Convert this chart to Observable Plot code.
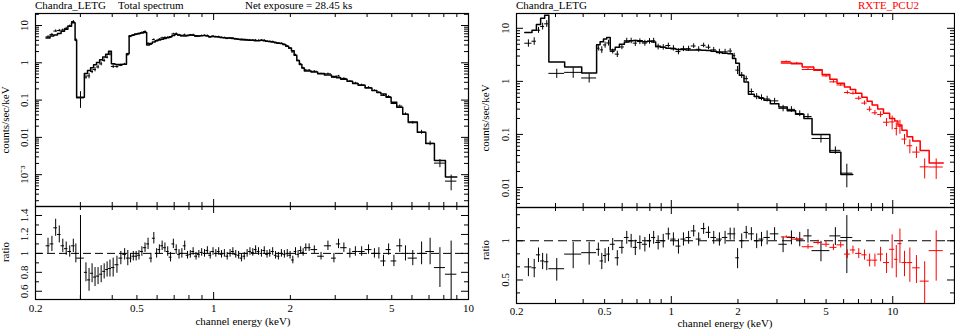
<!DOCTYPE html>
<html>
<head>
<meta charset="utf-8">
<script src="https://cdn.jsdelivr.net/npm/d3@7"></script>
<script src="https://cdn.jsdelivr.net/npm/@observablehq/plot@0.6"></script>
<style>
  body { margin: 0; background: #fff; }
  #wrap { position: relative; width: 955px; height: 331px; overflow: hidden; background: #fff; }
</style>
</head>
<body>
<div id="wrap"></div>
<script>
// ================= DATA =================
// Left panel: Chandra_LETG total spectrum (bin edges in keV, model counts/sec/keV, data/model ratio, ratio error)
const leftEdges = [0.220,0.228,0.236,0.244,0.252,0.26,0.268,0.277,0.286,0.29,0.311,
  0.32,0.329,0.338,0.347,0.357,0.367,0.377,0.387,0.397,
  0.41,0.425,0.44,0.455,0.466,
  0.478,0.49,0.503,0.516,0.53,0.546,
  0.56,0.575,0.59,0.605,0.62,0.636,0.652,0.669,0.686,0.704,
  0.722,0.741,0.76,0.78,0.8,0.82,0.842,0.864,0.886,0.909,
  0.933,0.957,0.982,1.007,1.033,1.06,1.088,1.116,1.145,1.175,
  1.205,1.237,1.269,1.302,1.336,1.371,1.406,1.443,1.48,1.52,
  1.56,1.6,1.64,1.68,1.73,1.77,1.82,1.87,1.92,1.97,
  2.02,2.07,2.12,2.17,2.22,2.27,2.33,
  2.41,2.56,2.72,2.9,3.03,3.15,3.34,3.51,3.69,3.93,
  4.18,4.37,4.53,4.75,4.97,5.23,5.52,5.8,6.3,6.8,
  7.35,8.12,9.0];
const leftModel = [4.6,5.2,5.6,6.1,7.0,8.0,9.5,11.8,
  4.1,0.12,
  0.52,0.62,0.74,0.88,1.02,1.2,1.42,1.7,2.05,
  0.94,0.9,0.9,0.92,
  1.74,
  5.3,5.6,5.9,6.1,6.3,6.5,
  3.0,3.3,3.6,3.9,4.1,4.3,4.5,4.7,5.0,5.4,
  5.8,5.6,5.3,5.2,5.4,5.6,5.5,5.3,5.2,5.3,
  5.4,5.2,5.0,5.1,5.0,4.9,4.8,4.7,4.6,4.6,
  4.5,4.4,4.3,4.3,4.2,4.1,4.0,4.0,3.9,3.9,
  4.0,3.9,3.8,3.7,3.6,3.5,3.4,3.3,3.1,2.8,
  2.5,2.1,1.6,1.15,0.9,0.72,0.6,
  0.6,0.57,0.52,0.47,0.43,0.40,0.36,0.32,0.28,0.25,
  0.21,0.18,0.16,0.145,0.12,0.088,0.064,0.042,0.026,0.0138,
  0.0068,0.0024,0.00086];
const leftRatio = [1.08,1.1,1.27,1.2,1.08,1.05,1.02,1.08,
  1.0,0.95,
  0.8,0.72,0.79,0.75,0.76,0.78,0.81,0.83,0.84,
  0.85,0.88,0.95,0.99,
  0.95,
  0.95,0.97,0.97,0.98,1.02,1.06,
  1.1,0.95,1.16,1.0,1.04,1.08,1.06,1.02,0.96,1.1,
  1.04,0.99,1.0,1.08,0.98,0.99,1.02,0.97,0.99,1.01,
  1.0,1.03,0.98,1.02,1.0,1.02,0.99,1.0,0.97,1.0,
  1.02,0.99,0.98,0.95,0.97,1.0,1.02,1.01,1.04,1.02,
  1.0,1.03,0.99,1.0,1.02,0.98,0.97,1.0,0.99,1.0,
  0.98,0.93,1.02,0.99,1.03,1.01,1.06,
  1.06,1.04,0.97,1.08,0.95,1.1,1.06,1.0,1.02,1.02,
  1.04,1.0,1.0,0.92,1.04,0.92,1.08,1.0,0.95,1.0,
  1.02,0.85,0.78];
const leftErr = [0.08,0.08,0.09,0.09,0.07,0.07,0.06,0.07,
  0.1,0.45,
  0.1,0.12,0.1,0.1,0.09,0.09,0.08,0.08,0.09,
  0.1,0.09,0.07,0.06,
  0.08,
  0.05,0.05,0.05,0.05,0.05,0.05,
  0.06,0.05,0.06,0.05,0.05,0.05,0.05,0.05,0.05,0.05,
  0.05,0.05,0.05,0.05,0.04,0.04,0.04,0.04,0.04,0.04,
  0.04,0.04,0.04,0.04,0.04,0.04,0.04,0.04,0.04,0.04,
  0.04,0.04,0.04,0.04,0.04,0.04,0.04,0.04,0.04,0.04,
  0.04,0.04,0.04,0.04,0.04,0.04,0.04,0.04,0.04,0.04,
  0.04,0.04,0.04,0.04,0.04,0.04,0.04,
  0.04,0.04,0.04,0.05,0.05,0.05,0.05,0.05,0.05,0.05,
  0.05,0.05,0.06,0.06,0.06,0.06,0.07,0.08,0.08,0.12,
  0.14,0.21,0.35];

// Right panel: Chandra_LETG (black)
const letgEdges = [0.218,0.235,0.246,0.257,0.268,0.28,0.33,0.394,0.46,
  0.477,0.494,0.511,0.53,0.558,0.583,0.614,0.645,0.673,0.703,
  0.74,0.78,0.815,0.85,0.895,0.945,0.995,1.05,1.105,1.165,
  1.23,1.295,1.365,1.435,1.51,1.6,1.7,1.8,1.89,1.955,
  2.03,2.13,2.23,2.37,2.49,2.62,2.8,3.06,3.34,3.64,
  3.97,4.32,5.2,5.83,6.6];
const letgModel = [8.3,9.2,11.8,15.5,17.6,2.32,1.87,1.43,
  4.9,5.6,6.3,6.7,3.9,4.4,5.0,5.5,5.8,5.9,
  5.8,5.6,5.7,5.5,4.6,4.4,4.2,4.1,4.0,4.0,
  3.9,3.9,3.9,3.85,3.8,3.7,3.5,3.4,3.3,2.7,
  2.2,1.3,0.97,0.57,0.52,0.48,0.44,0.38,0.33,0.28,
  0.24,0.2,0.1,0.046,0.0176];
const letgRatio = [0.63,0.62,0.78,0.7,0.69,0.61,0.79,0.81,
  0.86,0.70,0.77,0.79,0.94,0.74,0.89,1.06,1.0,0.89,
  0.97,0.94,1.0,1.06,0.97,1.0,1.13,1.03,0.91,1.03,
  1.06,1.19,1.03,1.24,1.16,1.06,1.03,1.06,1.13,1.13,
  0.74,1.0,1.16,1.13,1.0,1.03,1.06,1.13,0.94,1.06,
  1.03,1.09,0.84,1.09,1.06];
const letgErr = [0.1,0.1,0.1,0.1,0.1,0.12,0.18,0.16,
  0.1,0.1,0.1,0.1,0.1,0.1,0.1,0.12,0.12,0.12,
  0.12,0.12,0.12,0.12,0.12,0.12,0.12,0.12,0.12,0.12,
  0.12,0.12,0.12,0.12,0.12,0.12,0.12,0.12,0.12,0.12,
  0.13,0.13,0.13,0.13,0.13,0.13,0.13,0.13,0.13,0.13,
  0.13,0.13,0.15,0.17,0.5];

// Right panel: RXTE_PCU2 (red)
const pcuEdges = [3.14,3.48,3.9,4.4,4.8,5.2,5.6,6.05,6.43,6.8,7.25,7.66,8.07,8.55,9.08,9.68,10.2,10.55,11.0,11.6,12.3,13.3,14.6,16.9];
const pcuModel = [2.22,2.15,1.86,1.65,1.35,1.1,0.92,0.78,0.7,0.6,0.5,0.42,0.36,0.3,0.25,0.2,0.18,0.15,0.12,0.09,0.075,0.05,0.029];
const pcuRatio = [1.07,1.03,0.9,0.97,0.94,0.89,0.93,0.79,0.85,0.8,0.78,0.71,0.71,0.79,0.68,0.86,0.72,0.95,0.68,0.68,0.62,0.49,0.84];
const pcuErr = [0.02,0.03,0.04,0.04,0.05,0.05,0.05,0.06,0.06,0.07,0.07,0.08,0.08,0.1,0.12,0.25,0.2,0.28,0.15,0.2,0.15,0.2,0.35];

// Tick labels
const xTickLabels = [0.2, 0.5, 1, 2, 5, 10];
const leftCountTicks = [0.001, 0.01, 0.1, 1, 10];
const leftCountLabels = ["10\u207B\u00B3", "0.01", "0.1", "1", "10"];
const leftRatioTicks = [0.6, 0.8, 1, 1.2, 1.4];
const leftRatioLabels = ["0.6", "0.8", "1", "1.2", "1.4"];
const rightCountTicks = [0.01, 0.1, 1, 10];
const rightCountLabels = ["0.01", "0.1", "1", "10"];
const rightRatioTicks = [0.5, 1];
const rightRatioLabels = ["0.5", "1"];

// ================= HELPERS =================
const FONT = "'Liberation Serif', 'Times New Roman', serif";
const RED = "#ff0000";

function makeBins(edges, model, ratio, err) {
  const n = Math.min(edges.length - 1, model.length, ratio.length, err.length);
  const out = [];
  for (let i = 0; i < n; i++) {
    const lo = edges[i], hi = edges[i + 1];
    out.push({lo, hi, mid: Math.sqrt(lo * hi), m: model[i], r: ratio[i], e: err[i],
      c: model[i] * ratio[i], ce: model[i] * err[i]});
  }
  return out;
}
function stepPts(bins) {
  const p = bins.map(b => ({x: b.lo, y: b.m}));
  const l = bins[bins.length - 1];
  p.push({x: l.hi, y: l.m});
  return p;
}
function logMinor(lo, hi) {
  const out = [];
  for (let p = Math.floor(Math.log10(lo)) - 1; p <= Math.ceil(Math.log10(hi)); p++)
    for (let k = 2; k <= 9; k++) { const v = k * Math.pow(10, p); if (v > lo * 1.0001 && v < hi * 0.9999) out.push(v); }
  return out;
}
function logMajor(lo, hi) {
  const out = [];
  for (let p = Math.floor(Math.log10(lo)) - 1; p <= Math.ceil(Math.log10(hi)); p++) { const v = Math.pow(10, p); if (v > lo * 1.0001 && v < hi * 0.9999) out.push(v); }
  return out;
}
function frameTicks(xMaj, xMin, yMaj, yMin, iw, ih) {
  const S = {stroke: "black", strokeWidth: 1};
  const M = 7, m = 4;
  return [
    Plot.tickX(xMaj, {x: d => d, insetTop: ih - M, ...S}),
    Plot.tickX(xMaj, {x: d => d, insetBottom: ih - M, ...S}),
    Plot.tickX(xMin, {x: d => d, insetTop: ih - m, ...S}),
    Plot.tickX(xMin, {x: d => d, insetBottom: ih - m, ...S}),
    Plot.tickY(yMaj, {y: d => d, insetRight: iw - M, ...S}),
    Plot.tickY(yMaj, {y: d => d, insetLeft: iw - M, ...S}),
    Plot.tickY(yMin, {y: d => d, insetRight: iw - m, ...S}),
    Plot.tickY(yMin, {y: d => d, insetLeft: iw - m, ...S})
  ];
}
function yLabels(vals, txt, dx) {
  return Plot.text(vals.map((v, i) => ({v, t: txt[i]})), {y: "v", text: "t", frameAnchor: "left", dx,
    rotate: -90, textAnchor: "middle", lineAnchor: "bottom", fontSize: 11, fill: "black"});
}
function xLabels(dy) {
  return Plot.text(xTickLabels.map(v => ({v, t: String(v)})), {x: "v", text: "t", frameAnchor: "bottom", dy,
    lineAnchor: "top", fontSize: 11, fill: "black"});
}
function spectrumMarks(bins, color) {
  return [
    Plot.line(stepPts(bins), {x: "x", y: "y", curve: "step-after", stroke: color, strokeWidth: 1.5, clip: true}),
    Plot.ruleY(bins, {y: "c", x1: "lo", x2: "hi", stroke: color, strokeWidth: 1, clip: true}),
    Plot.ruleX(bins, {x: "mid", y1: d => Math.max(d.c - d.ce, 1e-7), y2: d => d.c + d.ce, stroke: color, strokeWidth: 1, clip: true})
  ];
}
function ratioMarks(bins, color, ymin) {
  return [
    Plot.ruleY(bins, {y: "r", x1: "lo", x2: "hi", stroke: color, strokeWidth: 1, clip: true}),
    Plot.ruleX(bins, {x: "mid", y1: d => Math.max(d.r - d.e, ymin), y2: d => d.r + d.e, stroke: color, strokeWidth: 1, clip: true})
  ];
}
function panel(o) {
  const svg = Plot.plot({
    width: o.width, height: o.height,
    marginLeft: o.mL, marginRight: o.mR, marginTop: o.mT, marginBottom: o.mB,
    x: {type: "log", domain: o.xDomain, axis: null},
    y: {type: o.yType, domain: o.yDomain, axis: null},
    style: {background: "transparent", overflow: "visible", fontFamily: FONT, fontSize: "11px", color: "black"},
    marks: o.marks
  });
  svg.style.position = "absolute";
  svg.style.left = o.left + "px";
  svg.style.top = o.top + "px";
  document.getElementById("wrap").appendChild(svg);
}

// ================= BUILD =================
const leftBins = makeBins(leftEdges, leftModel, leftRatio, leftErr);
const letgBins = makeBins(letgEdges, letgModel, letgRatio, letgErr);
const pcuBins = makeBins(pcuEdges, pcuModel, pcuRatio, pcuErr);

// Left top
{
  const xD = [0.2, 10], yD = [1.4e-4, 21];
  const W = 470, H = 207, mL = 35, mR = 2, mT = 13, mB = 1;
  panel({left: 0, top: 0, width: W, height: H, mL, mR, mT, mB, xDomain: xD, yDomain: yD, yType: "log",
    marks: [
      ...spectrumMarks(leftBins, "black"),
      ...frameTicks(logMajor(...xD), logMinor(...xD), logMajor(...yD), logMinor(...yD), W - mL - mR, H - mT - mB),
      yLabels(leftCountTicks, leftCountLabels, -8),
      Plot.frame({stroke: "black", strokeWidth: 1.2})
    ]});
}
// Left bottom (ratio)
{
  const xD = [0.2, 10], yD = [0.513, 1.495];
  const W = 470, H = 131, mL = 35, mR = 2, mT = 6, mB = 32;
  panel({left: 0, top: 200, width: W, height: H, mL, mR, mT, mB, xDomain: xD, yDomain: yD, yType: "linear",
    marks: [
      Plot.ruleY([1], {stroke: "black", strokeWidth: 1, strokeDasharray: "8,4"}),
      ...ratioMarks(leftBins, "black", 0.3),
      ...frameTicks(logMajor(...xD), logMinor(...xD), leftRatioTicks, [0.7, 0.9, 1.1, 1.3], W - mL - mR, H - mT - mB),
      yLabels(leftRatioTicks, leftRatioLabels, -8),
      xLabels(5),
      Plot.frame({stroke: "black", strokeWidth: 1.2})
    ]});
}
// Right top
{
  const xD = [0.2, 19], yD = [0.0042, 19];
  const W = 475, H = 208, mL = 36, mR = 1, mT = 13, mB = 1;
  panel({left: 480, top: 0, width: W, height: H, mL, mR, mT, mB, xDomain: xD, yDomain: yD, yType: "log",
    marks: [
      ...spectrumMarks(letgBins, "black"),
      ...spectrumMarks(pcuBins, RED),
      ...frameTicks(logMajor(...xD), logMinor(...xD), logMajor(...yD), logMinor(...yD), W - mL - mR, H - mT - mB),
      yLabels(rightCountTicks, rightCountLabels, -8),
      Plot.frame({stroke: "black", strokeWidth: 1.2})
    ]});
}
// Right bottom (ratio)
{
  const xD = [0.2, 19], yD = [0.33, 1.8];
  const W = 475, H = 131, mL = 36, mR = 1, mT = 7, mB = 28;
  panel({left: 480, top: 200, width: W, height: H, mL, mR, mT, mB, xDomain: xD, yDomain: yD, yType: "log",
    marks: [
      Plot.ruleY([1], {stroke: "black", strokeWidth: 1, strokeDasharray: "9,5"}),
      ...ratioMarks(letgBins, "black", 0.1),
      ...ratioMarks(pcuBins, RED, 0.1),
      ...frameTicks(logMajor(...xD), logMinor(...xD), rightRatioTicks, [0.398, 0.631, 0.794, 1.259, 1.585], W - mL - mR, H - mT - mB),
      yLabels(rightRatioTicks, rightRatioLabels, -8),
      xLabels(4),
      Plot.frame({stroke: "black", strokeWidth: 1.2})
    ]});
}

// ================= TEXT OVERLAY =================
const ov = d3.create("svg").attr("width", 955).attr("height", 331)
  .style("position", "absolute").style("left", "0px").style("top", "0px")
  .style("font-family", FONT).style("font-size", "11px");
function txt(x, y, s, {anchor = "start", rot = 0, fill = "black"} = {}) {
  ov.append("text").attr("transform", `translate(${x},${y}) rotate(${rot})`)
    .attr("text-anchor", anchor).attr("fill", fill).text(s);
}
txt(35, 9, "Chandra_LETG");
txt(118, 9, "Total spectrum");
txt(245, 9, "Net exposure = 28.45 ks");
txt(516, 9, "Chandra_LETG");
txt(858, 9, "RXTE_PCU2", {fill: RED});
txt(243, 325, "channel energy (keV)", {anchor: "middle"});
txt(725, 327, "channel energy (keV)", {anchor: "middle"});
txt(9, 120, "counts/sec/keV", {anchor: "middle", rot: -90});
txt(9, 252, "ratio", {anchor: "middle", rot: -90});
txt(489, 118, "counts/sec/keV", {anchor: "middle", rot: -90});
txt(489, 250, "ratio", {anchor: "middle", rot: -90});
document.getElementById("wrap").appendChild(ov.node());
</script>
</body>
</html>
